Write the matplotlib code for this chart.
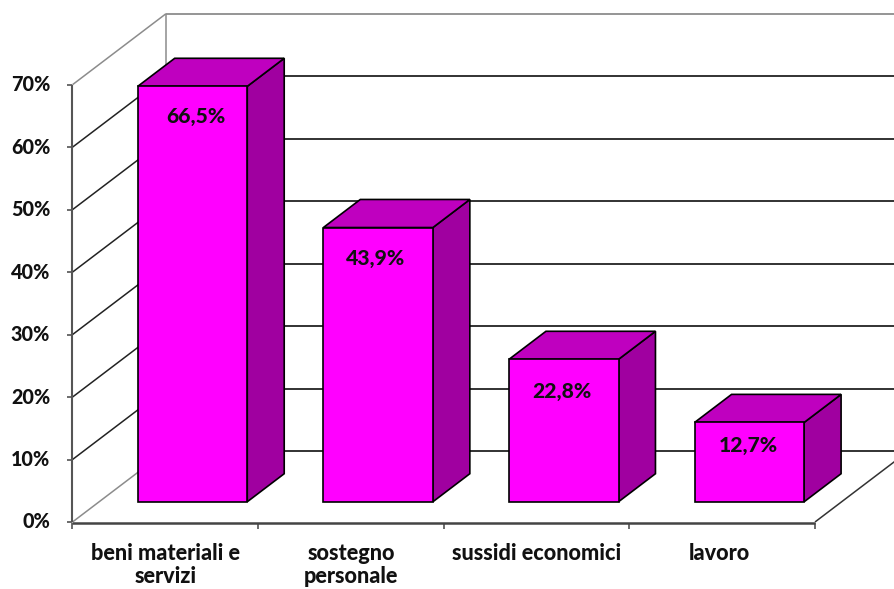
import matplotlib
matplotlib.use("Agg")
import matplotlib.pyplot as plt
from matplotlib.patches import Polygon

categories = ["beni materiali e\nservizi", "sostegno\npersonale", "sussidi economici", "lavoro"]
values = [66.5, 43.9, 22.8, 12.7]
value_labels = ["66,5%", "43,9%", "22,8%", "12,7%"]
ticks = [0, 10, 20, 30, 40, 50, 60, 70]
tick_labels = ["0%", "10%", "20%", "30%", "40%", "50%", "60%", "70%"]

W, H = 895, 589
X0, X1, Y0, Y70 = 72.5, 815.0, 522.0, 84.7
FONT = "Lato"
WEIGHT = 900

fig = plt.figure(figsize=(W / 100, H / 100), dpi=100, facecolor="white")
ax = fig.add_axes([X0 / W, 1 - Y0 / H, (X1 - X0) / W, (Y0 - Y70) / H])
ax.set_xlim(0, len(categories))
ax.set_ylim(0, 70)
ax.axis("off")

# oblique depth in data units
px_x = (X1 - X0) / len(categories)
px_y = (Y0 - Y70) / 70
DX = 93.5 / px_x
DY = 71.0 / px_y


def proj(x, y, d=0.0):
    return (x + DX * d, y + DY * d)


def line(a, b, color, lw=1.1, z=1):
    ax.plot([a[0], b[0]], [a[1], b[1]], color=color, lw=lw, zorder=z,
            clip_on=False, solid_capstyle="butt")


GRAY = "#8c8c8c"
n = len(categories)
for t, tl in zip(ticks, tick_labels):
    edge = t in (0, 70)
    line(proj(0, t), proj(0, t, 1), GRAY if edge else "#222222")
    line(proj(0, t, 1), proj(n, t, 1), GRAY if t == 70 else "#222222", lw=1.3)
    line((-0.03, t), (0, t), "#444444")
    ax.annotate(tl, (0, t), xytext=(-16, 0), textcoords="offset points", ha="right", va="center",
                fontsize=14.2, fontweight=WEIGHT, family=FONT, color="#111111", annotation_clip=False)
line(proj(0, 0, 1), proj(0, 70, 1), GRAY)
line((0, 0), (0, 70), "#555555", lw=1.5, z=2)
line(proj(n, 0), proj(n, 0, 1), "#333333")

# floor edge and category ticks sit slightly below the 0% level
floor = -0.2
line((0, floor), (n, floor), "#444444", lw=1.8, z=2)
for i in range(n + 1):
    line((i, floor), (i, floor - 1.0), "#444444", z=2)

BAR_W = 0.59
D_START = 0.285
D_LEN = 0.395
label_nudge = [(2.5, -22), (-1.5, -22.5), (-1.5, -23), (-1, -16.5)]
cat_nudge = [0, 0, 0, -2]
for i, (v, lab) in enumerate(zip(values, value_labels)):
    xl = i + 0.503 - BAR_W / 2
    xr = i + 0.503 + BAR_W / 2
    s, e = D_START, D_START + D_LEN
    kw = dict(edgecolor="black", lw=1.2, joinstyle="miter", clip_on=False, zorder=5)
    ax.add_patch(Polygon([proj(xr, 0, s), proj(xr, 0, e), proj(xr, v, e), proj(xr, v, s)],
                         facecolor="#A000A0", **kw))
    ax.add_patch(Polygon([proj(xl, v, s), proj(xr, v, s), proj(xr, v, e), proj(xl, v, e)],
                         facecolor="#BF00BF", **kw))
    ax.add_patch(Polygon([proj(xl, 0, s), proj(xr, 0, s), proj(xr, v, s), proj(xl, v, s)],
                         facecolor="#FF00FF", **kw))
    cx, top = proj(i + 0.503, v, s)
    ax.annotate(lab, (cx, top), xytext=label_nudge[i], textcoords="offset points",
                ha="center", va="center", fontsize=15.2, fontweight=WEIGHT, family=FONT,
                color="#111111", zorder=6)
    ax.annotate(categories[i], (i + 0.5, 0), xytext=(cat_nudge[i], -15), textcoords="offset points",
                ha="center", va="top", fontsize=15.6, fontweight=WEIGHT, family=FONT,
                color="#111111", linespacing=1.15, annotation_clip=False)

fig.savefig("out.png", dpi=100, facecolor="white")
